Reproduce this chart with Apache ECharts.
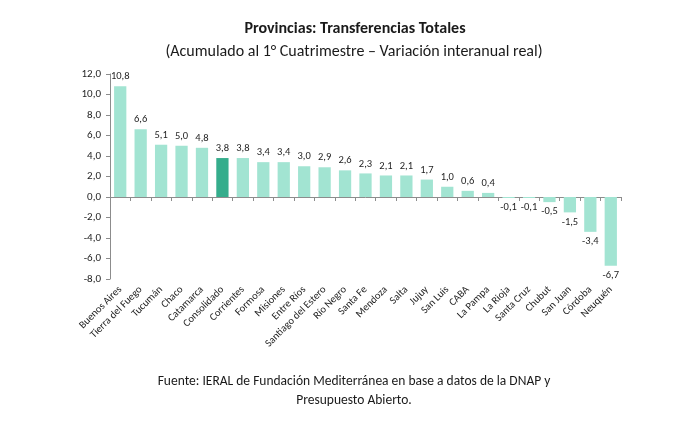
<!DOCTYPE html>
<html>
<head>
<meta charset="utf-8">
<script src="https://cdn.jsdelivr.net/npm/echarts@6/dist/echarts.min.js"></script>
<style>
  html, body { margin: 0; padding: 0; background: #fff; }
  #main { width: 683px; height: 442px; }
</style>
</head>
<body>
<div id="main"></div>
<script>
// provincias ordenadas de mayor a menor
var provincias = ['Buenos Aires', 'Tierra del Fuego', 'Tucumán', 'Chaco', 'Catamarca', 'Consolidado',
    'Corrientes', 'Formosa', 'Misiones', 'Entre Ríos', 'Santiago del Estero', 'Río Negro', 'Santa Fe',
    'Mendoza', 'Salta', 'Jujuy', 'San Luis', 'CABA', 'La Pampa', 'La Rioja', 'Santa Cruz', 'Chubut',
    'San Juan', 'Córdoba', 'Neuquén'];
var variacion = [10.8, 6.6, 5.1, 5.0, 4.8, 3.8, 3.8, 3.4, 3.4, 3.0, 2.9, 2.6, 2.3,
    2.1, 2.1, 1.7, 1.0, 0.6, 0.4, -0.1, -0.1, -0.5, -1.5, -3.4, -6.7];
var yTicks = [-8, -6, -4, -2, 0, 2, 4, 6, 8, 10, 12];
var destacado = 'Consolidado';

var fuente = 'Calibri, Carlito, "Open Sans", sans-serif';

function coma(v) {
    return v.toFixed(1).replace('.', ',');
}

var datos = [];
for (var i = 0; i < variacion.length; i++) {
    var v = variacion[i];
    datos.push({
        value: v,
        itemStyle: { color: provincias[i] === destacado ? '#35ad8c' : '#a2e4d2' },
        label: { position: v < 0 ? 'bottom' : 'top' }
    });
}

var myChart = echarts.init(document.getElementById('main'));
var option = {
    animation: false,
    textStyle: { fontFamily: fuente },
    title: [
        {
            text: 'Provincias: Transferencias Totales',
            left: 350, top: 16, textAlign: 'center',
            textStyle: { fontSize: 16, fontWeight: 'bold', color: '#1a1a1a', fontFamily: fuente }
        },
        {
            text: '(Acumulado al 1° Cuatrimestre – Variación interanual real)',
            left: 349, top: 39, textAlign: 'center',
            textStyle: { fontSize: 16, fontWeight: 'normal', color: '#1a1a1a', fontFamily: fuente }
        },
        {
            text: 'Fuente: IERAL de Fundación Mediterránea en base a datos de la DNAP y',
            left: 349, top: 370, textAlign: 'center',
            textStyle: { fontSize: 13.5, fontWeight: 'normal', color: '#1a1a1a', fontFamily: fuente }
        },
        {
            text: 'Presupuesto Abierto.',
            left: 349, top: 389, textAlign: 'center',
            textStyle: { fontSize: 13.5, fontWeight: 'normal', color: '#1a1a1a', fontFamily: fuente }
        }
    ],
    grid: { left: 110, right: 62, top: 74, bottom: 163, containLabel: false },
    xAxis: {
        type: 'category',
        data: provincias,
        axisLine: { onZero: true, lineStyle: { color: '#8c8c8c', width: 1 } },
        axisTick: { show: true, alignWithLabel: false, inside: false, length: 4, lineStyle: { color: '#8c8c8c' } },
        axisLabel: {
            interval: 0, rotate: 45, fontSize: 10.5, color: '#1f1f1f',
            margin: 9, fontFamily: fuente
        },
        position: 'bottom'
    },
    yAxis: {
        type: 'value',
        min: -8, max: 12, interval: 2,
        splitLine: { show: false },
        axisLine: { show: true, lineStyle: { color: '#8c8c8c' } },
        axisTick: { show: true, length: 4, lineStyle: { color: '#8c8c8c' } },
        axisLabel: {
            fontSize: 11, color: '#1f1f1f', margin: 9, fontFamily: fuente,
            formatter: function (v) { return coma(v); }
        }
    },
    series: [
        {
            type: 'bar',
            data: datos,
            barCategoryGap: '40%',
            label: {
                show: true,
                fontSize: 10.5,
                color: '#1f1f1f',
                distance: 4,
                fontFamily: fuente,
                formatter: function (p) { return coma(p.value); }
            }
        }
    ]
};
myChart.setOption(option, true);
</script>
</body>
</html>
